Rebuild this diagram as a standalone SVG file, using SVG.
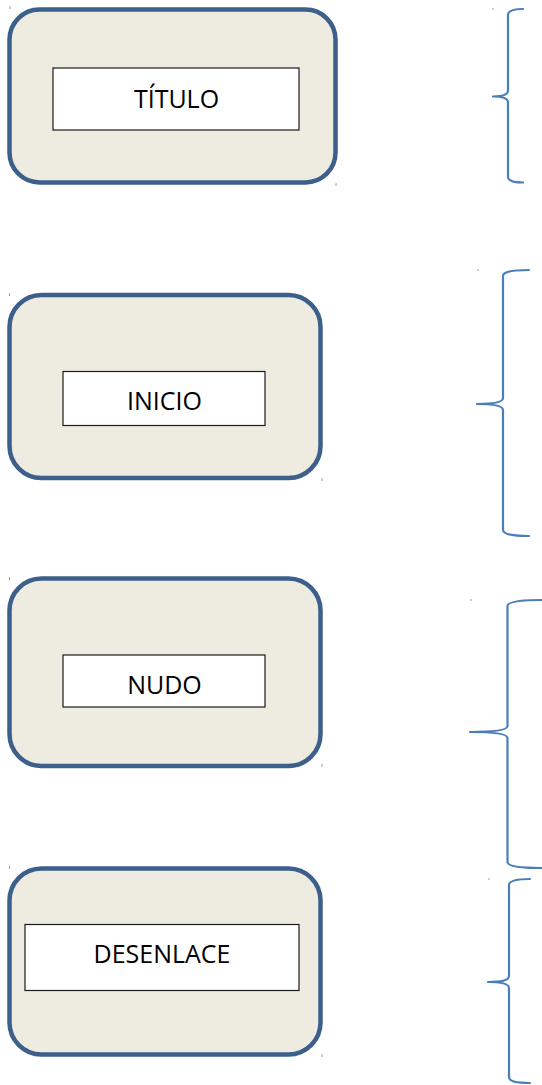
<svg xmlns="http://www.w3.org/2000/svg" width="542" height="1085" viewBox="0 0 542 1085">
<defs>
<style>
.outer{fill:#eeebe1;stroke:#3d5f8b;stroke-width:4.5}
.inner{fill:#ffffff;stroke:#1a1a1a;stroke-width:1.2}
.lbl{font-family:"Open Sans","Liberation Sans",sans-serif;font-size:25px;fill:#000000;text-anchor:middle}
.brace{fill:none;stroke:#4a7ebb;stroke-width:2.2;stroke-linecap:round;stroke-linejoin:round}
.tick{stroke:#9a9a9a;stroke-width:1}
</style>
</defs>
<rect width="542" height="1085" fill="#ffffff"/>
<g id="titulo">
<rect class="outer" x="9.5" y="9.5" width="326" height="173" rx="30"/>
<rect class="inner" x="53" y="68" width="246" height="62"/>
<text class="lbl" x="176.5" y="107.5">TÍTULO</text>
<line class="tick" x1="10" y1="6" x2="10" y2="9"/>
<line class="tick" x1="336" y1="183" x2="336" y2="186"/>
</g>
<g id="inicio">
<rect class="outer" x="9.5" y="295" width="311" height="183" rx="32"/>
<rect class="inner" x="63" y="371.5" width="202" height="54"/>
<text class="lbl" x="164.5" y="409.5">INICIO</text>
<line class="tick" x1="9.5" y1="293" x2="9.5" y2="296"/>
<line class="tick" x1="322" y1="478" x2="322" y2="481"/>
</g>
<g id="nudo">
<rect class="outer" x="9.5" y="578.5" width="311" height="187.5" rx="32"/>
<rect class="inner" x="63" y="655" width="202" height="52"/>
<text class="lbl" x="164.5" y="693.5">NUDO</text>
<line class="tick" x1="9.5" y1="577" x2="9.5" y2="580"/>
<line class="tick" x1="322" y1="764" x2="322" y2="767"/>
</g>
<g id="desenlace">
<rect class="outer" x="9.5" y="868.5" width="311" height="186" rx="32"/>
<rect class="inner" x="25" y="924.5" width="274" height="66"/>
<text class="lbl" x="162" y="963">DESENLACE</text>
<line class="tick" x1="9.5" y1="866" x2="9.5" y2="869"/>
<line class="tick" x1="322" y1="1054" x2="322" y2="1057"/>
</g>
<g id="connectors">
<path class="brace" d="M523,9 Q508,9 508,15 L508,90.5 Q508,96.5 493,96.5 Q508,96.5 508,102.5 L508,176.5 Q508,182.5 523,182.5"/>
<path class="brace" d="M529,270 Q503,270 503,276 L503,398 Q503,404 477,404 Q503,404 503,410 L503,530 Q503,536 529,536"/>
<path class="brace" d="M542,600 Q507.5,600 507.5,606 L507.5,726 Q507.5,732 470,732 Q507.5,732 507.5,738 L507.5,862 Q507.5,868 542,868"/>
<path class="brace" d="M530,879 Q509,879 509,885 L509,976 Q509,982 488,982 Q509,982 509,988 L509,1077 Q509,1083 530,1083"/>
<line class="tick" x1="493" y1="8" x2="493" y2="10"/>
<line class="tick" x1="478" y1="269" x2="478" y2="271"/>
<line class="tick" x1="471" y1="599" x2="471" y2="601"/>
<line class="tick" x1="489" y1="878" x2="489" y2="880"/>
</g>
</svg>
